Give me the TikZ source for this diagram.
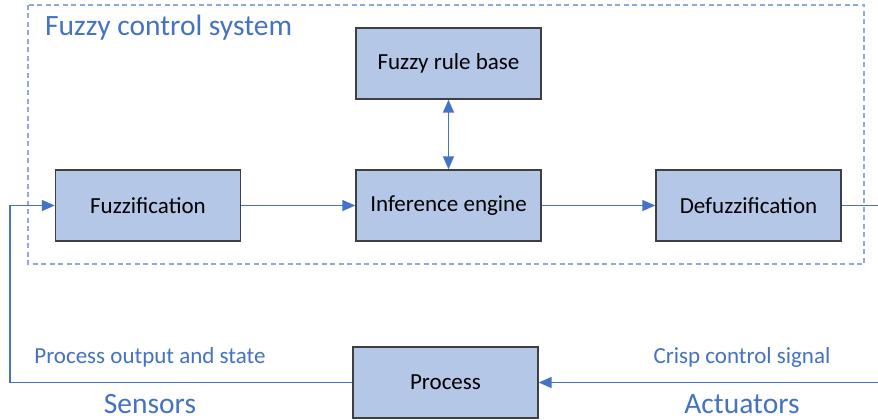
\documentclass[tikz,border=0pt]{standalone}
\usepackage{fontspec}
\setmainfont{Carlito}
\usetikzlibrary{arrows.meta}
\definecolor{boxfill}{HTML}{B4C7E7}
\definecolor{boxline}{HTML}{3F3F3F}
\definecolor{flow}{HTML}{4472C4}
\definecolor{frame}{HTML}{8FAADC}
\tikzset{
  block/.style={draw=boxline, line width=1.4pt, fill=boxfill, text=black,
    minimum width=185pt, minimum height=71pt, inner sep=0pt,
    font=\fontsize{23}{26}\selectfont},
  flowline/.style={draw=flow, line width=1.5pt},
  head/.tip={Triangle[length=13pt,width=11pt]},
  tip/.style={-head},
  label/.style={text=flow, inner sep=0pt},
  smalllabel/.style={label, font=\fontsize{23}{26}\selectfont},
  biglabel/.style={label, font=\fontsize{29.5}{33}\selectfont},
}
\begin{document}
\begin{tikzpicture}[x=1pt, y=-1pt]
  \useasboundingbox (0,0) rectangle (878,420);
  \fill[white] (0,0) rectangle (878,420);
  % outer dashed frame of the controller
  \draw[frame, line width=1.3pt, dash pattern=on 5pt off 3.5pt] (28,5) rectangle (864,264);
  \node[biglabel, anchor=west] (title) at (45,28) {Fuzzy control system};
  % blocks
  \node[block] (rules) at (448.5,63.5) {Fuzzy rule base};
  \node[block] (fuzz) at (148,205.5) {Fuzzification};
  \node[block] (infer) at (448.5,205.5) {Inference engine};
  \node[block] (defuzz) at (748.5,205.5) {Defuzzification};
  \node[block] (proc) at (445.5,382.5) {Process};
  % free ends of the loop
  \coordinate (outR) at (878,205.5);
  \coordinate (inR) at (878,382.5);
  \coordinate (cornerL) at (10,382.5);
  \coordinate (cornerLtop) at (10,205.5);
  % connectors
  \draw[flowline, tip] (fuzz) -- (infer);
  \draw[flowline, tip] (infer) -- (defuzz);
  \draw[flowline, head-head] (rules) -- (infer);
  \draw[flowline] (defuzz) -- (outR);
  \draw[flowline, tip] (inR) -- (proc);
  \draw[flowline, tip] (proc.west) -- (cornerL) -- (cornerLtop) -- (fuzz.west);
  % signal labels
  \node[smalllabel] (pos) at (150,357) {Process output and state};
  \node[biglabel, anchor=base, text depth=0pt] (sens) at (150,413) {Sensors};
  \node[smalllabel] (ccs) at (742,357) {Crisp control signal};
  \node[biglabel, anchor=base, text depth=0pt] (act) at (742,413) {Actuators};
\end{tikzpicture}
\end{document}
